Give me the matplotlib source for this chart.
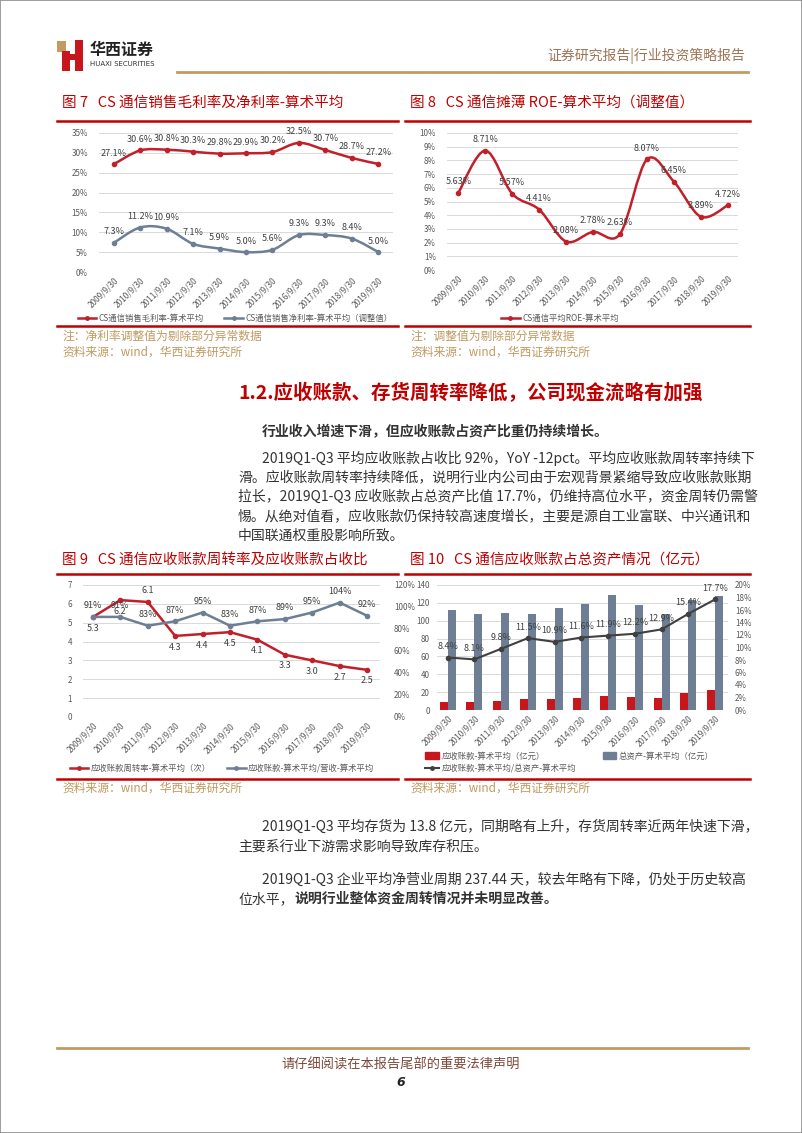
import matplotlib
matplotlib.use("Agg")
import matplotlib.pyplot as plt
from matplotlib.lines import Line2D
from matplotlib.patches import Rectangle, PathPatch, Patch
from matplotlib.path import Path

plt.rcParams['font.family'] = ['Noto Sans CJK SC', 'DejaVu Sans']

# ----------------------------------------------------------------------------------------------------------------------
# Data

dates = ["2009/9/30", "2010/9/30", "2011/9/30", "2012/9/30", "2013/9/30", "2014/9/30",
         "2015/9/30", "2016/9/30", "2017/9/30", "2018/9/30", "2019/9/30"]

# Fig 7: gross / net margin (%)
gross_margin = [27.1, 30.6, 30.8, 30.3, 29.8, 29.9, 30.2, 32.5, 30.7, 28.7, 27.2]
net_margin = [7.3, 11.2, 10.9, 7.1, 5.9, 5.0, 5.6, 9.3, 9.3, 8.4, 5.0]

# Fig 8: diluted ROE (%)
roe = [5.63, 8.71, 5.57, 4.41, 2.08, 2.78, 2.63, 8.07, 6.45, 3.89, 4.72]

# Fig 9: receivable turnover (times) and receivables / revenue (%)
ar_turnover = [5.3, 6.2, 6.1, 4.3, 4.4, 4.5, 4.1, 3.3, 3.0, 2.7, 2.5]
ar_to_rev = [91, 91, 83, 87, 95, 83, 87, 89, 95, 104, 92]
ar_turn_label_above = [False, False, True, False, False, False, False, False, False, False, False]

# Fig 10: receivables, total assets (100m yuan) and ratio (%)
receivables = [9.4, 8.7, 10.6, 12.4, 12.4, 13.8, 15.3, 14.3, 13.9, 19.0, 22.7]
total_assets = [111.6, 107.5, 108.2, 107.5, 113.8, 118.7, 128.8, 117.2, 107.5, 123.2, 128.0]
ar_to_assets = [8.4, 8.1, 9.8, 11.5, 10.9, 11.6, 11.9, 12.2, 12.9, 15.4, 17.7]

para1 = ["2019Q1-Q3 平均应收账款占收比 92%，YoY -12pct。平均应收账款周转率持续下",
         "滑。应收账款周转率持续降低，说明行业内公司由于宏观背景紧缩导致应收账款账期",
         "拉长，2019Q1-Q3 应收账款占总资产比值 17.7%，仍维持高位水平，资金周转仍需警",
         "惕。从绝对值看，应收账款仍保持较高速度增长，主要是源自工业富联、中兴通讯和",
         "中国联通权重股影响所致。"]
para2 = ["2019Q1-Q3 平均存货为 13.8 亿元，同期略有上升，存货周转率近两年快速下滑，",
         "主要系行业下游需求影响导致库存积压。"]

# ----------------------------------------------------------------------------------------------------------------------
RED = "#C0202A"
TITLE_RED = "#C00000"
GRAY = "#6E7E94"
DARK = "#404040"
TAN = "#BF9A60"
GOLD = "#C39A62"
GRID = "#D9D9D9"
TXT = "#333333"

W, H = 802, 1133
fig = plt.figure(figsize=(W / 100, H / 100), dpi=100)


def rect(x0, y0, x1, y1):
    """ Pixel box (top-left origin) to figure fraction rect """
    return [x0 / W, 1 - y1 / H, (x1 - x0) / W, (y1 - y0) / H]


def ftext(x, y, s, **kw):
    kw.setdefault("va", "center")
    return fig.text(x / W, 1 - y / H, s, **kw)


def hline(x0, x1, y, color, lw):
    fig.add_artist(Line2D([x0 / W, x1 / W], [1 - y / H, 1 - y / H], color=color, lw=lw,
                          transform=fig.transFigure))


def box(x, y, w, h, color):
    fig.add_artist(Rectangle((x / W, 1 - (y + h) / H), w / W, h / H, color=color, lw=0,
                             transform=fig.transFigure))


def smooth_path(xs, ys, t=1 / 6):
    """ Excel style smoothed line as cubic bezier through the data points """
    n = len(xs)
    verts = [(xs[0], ys[0])]
    codes = [Path.MOVETO]
    for i in range(n - 1):
        p0 = (xs[max(i - 1, 0)], ys[max(i - 1, 0)])
        p1 = (xs[i], ys[i])
        p2 = (xs[i + 1], ys[i + 1])
        p3 = (xs[min(i + 2, n - 1)], ys[min(i + 2, n - 1)])
        c1 = (p1[0] + (p2[0] - p0[0]) * t, p1[1] + (p2[1] - p0[1]) * t)
        c2 = (p2[0] - (p3[0] - p1[0]) * t, p2[1] - (p3[1] - p1[1]) * t)
        verts += [c1, c2, p2]
        codes += [Path.CURVE4] * 3
    return Path(verts, codes)


def base_axes(box_px, xlim, ylim, yticks, ylabels, ypad=8):
    ax = fig.add_axes(rect(*box_px))
    ax.set_xlim(*xlim)
    ax.set_ylim(*ylim)
    ax.set_yticks(yticks)
    ax.set_yticklabels(ylabels)
    ax.set_xticks(range(len(dates)))
    ax.set_xticklabels(dates, rotation=45, ha="right", rotation_mode="anchor")
    ax.tick_params(length=0, labelsize=6, labelcolor="#595959", pad=3)
    ax.tick_params(axis="y", pad=ypad, labelsize=5.8)
    for s in ax.spines.values():
        s.set_visible(False)
    ax.grid(axis="y", color=GRID, lw=0.7)
    ax.set_axisbelow(True)
    return ax


def labels(ax, ys, fmt, dy=8, color=DARK, above=None):
    for i, v in enumerate(ys):
        up = True if above is None else above[i]
        ax.annotate(fmt.format(v), (i, v), xytext=(0, dy if up else -dy), textcoords="offset points",
                    ha="center", va="center", fontsize=6.5, color=color)


def smooth_line(ax, ys, color):
    xs = list(range(len(ys)))
    ax.add_patch(PathPatch(smooth_path(xs, ys), fill=False, ec=color, lw=1.8, capstyle="round"))
    ax.plot(xs, ys, ls="none", marker="o", ms=3, color=color)


# ----------------------------------------------------------------------------------------------------------------------
# Header / page frame
fig.add_artist(Rectangle((0, 0), 1, 1, fill=False, ec="#8C8C8C", lw=1.2, transform=fig.transFigure))
box(57, 41, 9, 11, GOLD)
box(62, 51, 8, 20, "#C8161D")
box(75, 40, 8, 31, "#C8161D")
box(66, 54, 10, 6, "#C8161D")
ftext(90, 50, "华西证券", fontsize=11.5, fontweight="bold", color="#222222")
ftext(90, 64, "HUAXI SECURITIES", fontsize=5, color="#333333", family="DejaVu Sans")
ftext(745, 56, "证券研究报告|行业投资策略报告", fontsize=10, color="#9C7556", ha="right")
hline(177, 748, 72, GOLD, 2)

# ----------------------------------------------------------------------------------------------------------------------
# Fig 7
ftext(62, 103, "图 7   CS 通信销售毛利率及净利率-算术平均", fontsize=10.5, color=TITLE_RED)
hline(57, 398, 121, TITLE_RED, 1.8)
ax7 = base_axes((99, 133, 393, 272), (-0.55, 10.55), (0, 35), range(0, 36, 5),
                [f"{v}%" for v in range(0, 36, 5)])
smooth_line(ax7, gross_margin, RED)
smooth_line(ax7, net_margin, GRAY)
labels(ax7, gross_margin, "{:.1f}%")
labels(ax7, net_margin, "{:.1f}%")
fig.legend(handles=[Line2D([], [], color=RED, lw=1.8, marker="o", ms=2.5),
                    Line2D([], [], color=GRAY, lw=1.8, marker="o", ms=2.5)],
           labels=["CS通信销售毛利率-算术平均", "CS通信销售净利率-算术平均（调整值）"],
           loc="center", bbox_to_anchor=(235 / W, 1 - 318 / H), ncol=2, frameon=False,
           fontsize=6, handlelength=2.2, columnspacing=2.5, handletextpad=0.3,
           labelcolor="#595959")
hline(57, 398, 326, TITLE_RED, 1.8)
ftext(62, 336, "注：净利率调整值为剔除部分异常数据", fontsize=8.5, color=TAN)
ftext(62, 352, "资料来源：wind，华西证券研究所", fontsize=8.5, color=TAN)

# Fig 8
ftext(410, 103, "图 8   CS 通信摊薄 ROE-算术平均（调整值）", fontsize=10.5, color=TITLE_RED)
hline(405, 750, 121, TITLE_RED, 1.8)
ax8 = base_axes((447, 133, 738, 270), (-0.42, 10.38), (0, 10), range(0, 11),
                [f"{v}%" for v in range(0, 11)])
smooth_line(ax8, roe, RED)
labels(ax8, roe, "{:.2f}%")
fig.legend(handles=[Line2D([], [], color=RED, lw=1.8, marker="o", ms=2.5)],
           labels=["CS通信平均ROE-算术平均"], loc="center",
           bbox_to_anchor=(560 / W, 1 - 318 / H), frameon=False, fontsize=6,
           handlelength=2.2, handletextpad=0.3, labelcolor="#595959")
hline(405, 750, 326, TITLE_RED, 1.8)
ftext(410, 336, "注：调整值为剔除部分异常数据", fontsize=8.5, color=TAN)
ftext(410, 352, "资料来源：wind，华西证券研究所", fontsize=8.5, color=TAN)

# ----------------------------------------------------------------------------------------------------------------------
# Section text
ftext(238, 393, "1.2.应收账款、存货周转率降低，公司现金流略有加强", fontsize=14, fontweight="bold",
      color=TITLE_RED)
ftext(262, 432, "行业收入增速下滑，但应收账款占资产比重仍持续增长。", fontsize=10, fontweight="bold",
      color=TXT)
for i, line in enumerate(para1):
    ftext(262 if i == 0 else 238, 458 + i * 19.4, line, fontsize=10, color=TXT)

# ----------------------------------------------------------------------------------------------------------------------
# Fig 9
ftext(62, 560, "图 9   CS 通信应收账款周转率及应收账款占收比", fontsize=10.5, color=TITLE_RED)
hline(57, 398, 574, TITLE_RED, 1.8)
ax9 = base_axes((83, 585, 380, 717), (-0.36, 10.47), (0, 7), range(0, 8), [str(v) for v in range(0, 8)])
ax9.plot(range(11), ar_turnover, color=RED, lw=1.8, marker="o", ms=3, zorder=3)
labels(ax9, ar_turnover, "{:.1f}", above=ar_turn_label_above)
ax9b = ax9.twinx()
ax9b.set_ylim(0, 120)
ax9b.set_yticks(range(0, 121, 20))
ax9b.set_yticklabels([f"{v}%" for v in range(0, 121, 20)])
ax9b.tick_params(length=0, labelsize=5.8, labelcolor="#595959", pad=10)
for s in ax9b.spines.values():
    s.set_visible(False)
ax9b.plot(range(11), ar_to_rev, color=GRAY, lw=1.8, marker="o", ms=3)
labels(ax9b, ar_to_rev, "{}%")
fig.legend(handles=[Line2D([], [], color=RED, lw=1.8, marker="o", ms=2.5),
                    Line2D([], [], color=GRAY, lw=1.8, marker="o", ms=2.5)],
           labels=["应收账款周转率-算术平均（次）", "应收账款-算术平均/营收-算术平均"],
           loc="center", bbox_to_anchor=(222 / W, 1 - 768 / H), ncol=2, frameon=False,
           fontsize=6, handlelength=2.2, columnspacing=2, handletextpad=0.3,
           labelcolor="#595959")
hline(57, 398, 779, TITLE_RED, 1.8)
ftext(62, 788, "资料来源：wind，华西证券研究所", fontsize=8.5, color=TAN)

# Fig 10
ftext(410, 560, "图 10   CS 通信应收账款占总资产情况（亿元）", fontsize=10.5, color=TITLE_RED)
hline(405, 750, 574, TITLE_RED, 1.8)
ax10 = base_axes((437, 585, 728, 710), (-0.4, 10.48), (0, 140), range(0, 141, 20),
                 [str(v) for v in range(0, 141, 20)], ypad=5)
xs = list(range(11))
ax10.bar([x - 0.15 for x in xs], receivables, width=0.3, color="#C8161D")
ax10.bar([x + 0.15 for x in xs], total_assets, width=0.3, color=GRAY)
ax10b = ax10.twinx()
ax10b.set_ylim(0, 20)
ax10b.set_yticks(range(0, 21, 2))
ax10b.set_yticklabels([f"{v}%" for v in range(0, 21, 2)])
ax10b.tick_params(length=0, labelsize=5.8, labelcolor="#595959", pad=5)
for s in ax10b.spines.values():
    s.set_visible(False)
ax10b.plot(xs, ar_to_assets, color=DARK, lw=1.5, marker="o", ms=3)
labels(ax10b, ar_to_assets, "{:.1f}%")
fig.legend(handles=[Patch(color="#C8161D"), Patch(color=GRAY)],
           labels=["应收账款-算术平均（亿元）", "总资产-算术平均（亿元）"],
           loc="center left", bbox_to_anchor=(418 / W, 1 - 756 / H), ncol=2, frameon=False,
           fontsize=6, handlelength=1.6, handleheight=0.8, columnspacing=7, handletextpad=0.3,
           labelcolor="#595959")
fig.legend(handles=[Line2D([], [], color=DARK, lw=1.5, marker="o", ms=2.5)],
           labels=["应收账款-算术平均/总资产-算术平均"],
           loc="center left", bbox_to_anchor=(418 / W, 1 - 768 / H), frameon=False,
           fontsize=6, handlelength=1.6, handletextpad=0.3, labelcolor="#595959")
hline(405, 750, 779, TITLE_RED, 1.8)
ftext(410, 788, "资料来源：wind，华西证券研究所", fontsize=8.5, color=TAN)

# ----------------------------------------------------------------------------------------------------------------------
# Lower text
for i, line in enumerate(para2):
    ftext(262 if i == 0 else 238, 827 + i * 19.4, line, fontsize=10, color=TXT)
ftext(262, 880, "2019Q1-Q3 企业平均净营业周期 237.44 天，较去年略有下降，仍处于历史较高", fontsize=10,
      color=TXT)
ftext(238, 899, "位水平，", fontsize=10, color=TXT)
ftext(294, 899, "说明行业整体资金周转情况并未明显改善。", fontsize=10, fontweight="bold", color=TXT)

# Footer
hline(57, 748, 1048, GOLD, 2)
ftext(401, 1065, "请仔细阅读在本报告尾部的重要法律声明", fontsize=9.5, color="#7A4A3A", ha="center")
ftext(401, 1082, "6", fontsize=9, fontweight="bold", style="italic", color="#222222", ha="center",
      family="DejaVu Sans")

fig.savefig("out.png", dpi=100)
